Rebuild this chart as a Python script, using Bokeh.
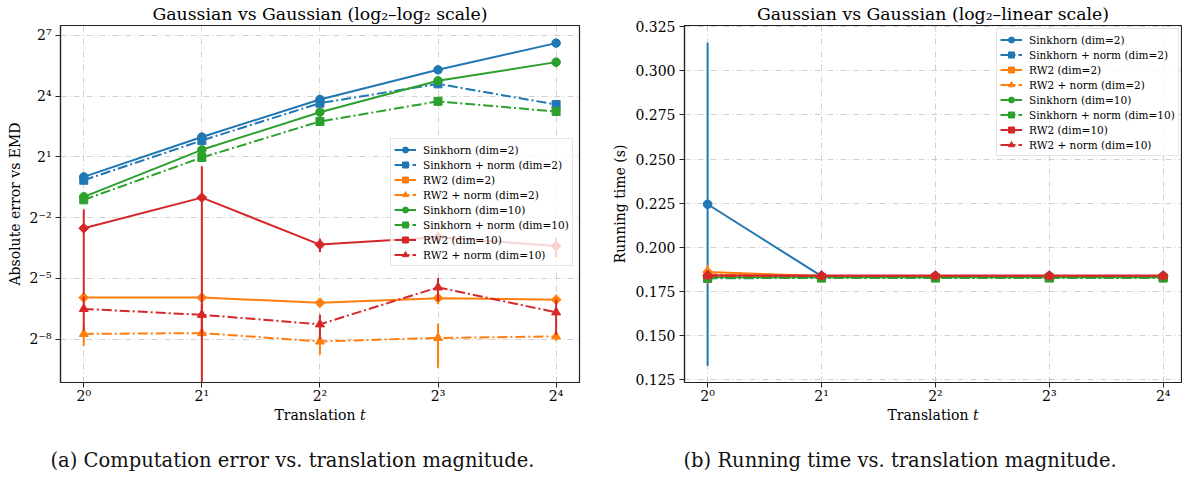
import numpy as np
from bokeh.plotting import figure
from bokeh.layouts import row
from bokeh.models import (FixedTicker, Range1d, Legend, LegendItem, Title,
                          NumeralTickFormatter)
from bokeh.embed import file_html
from bokeh.resources import INLINE

# ---------------- data ----------------
translation = [1, 2, 4, 8, 16]
x_tick_labels = ["2⁰", "2¹", "2²", "2³", "2⁴"]

err_ticks = [2.0 ** -8, 2.0 ** -5, 2.0 ** -2, 2.0 ** 1, 2.0 ** 4, 2.0 ** 7]
err_tick_labels = ["2⁻⁸", "2⁻⁵", "2⁻²", "2¹", "2⁴", "2⁷"]
time_ticks = [0.125, 0.150, 0.175, 0.200, 0.225, 0.250, 0.275, 0.300, 0.325]

series_labels = ["Sinkhorn (dim=2)", "Sinkhorn + norm (dim=2)", "RW2 (dim=2)",
                 "RW2 + norm (dim=2)", "Sinkhorn (dim=10)",
                 "Sinkhorn + norm (dim=10)", "RW2 (dim=10)", "RW2 + norm (dim=10)"]

# absolute error vs EMD: mean and std
err_sinkhorn_d2 = [1.01, 3.95, 14.3, 39.4, 98.4]
err_sinkhorn_d2_sd = [0.04, 0.10, 0.4, 1.2, 2.5]
err_sinkhorn_norm_d2 = [0.90, 3.51, 12.6, 24.4, 12.0]
err_sinkhorn_norm_d2_sd = [0.03, 0.10, 0.5, 3.5, 1.5]
err_rw2_d2 = [0.0162, 0.0162, 0.0136, 0.0159, 0.0151]
err_rw2_d2_sd = [0.0005, 0.0005, 0.0006, 0.0030, 0.0008]
err_rw2_norm_d2 = [0.00468, 0.00481, 0.00362, 0.00407, 0.00430]
err_rw2_norm_d2_sd = [0.0016, 0.0004, 0.0013, 0.0026, 0.0006]
err_sinkhorn_d10 = [0.51, 2.55, 9.25, 27.1, 51.3]
err_sinkhorn_d10_sd = [0.02, 0.08, 0.3, 3.0, 8.0]
err_sinkhorn_norm_d10 = [0.46, 1.96, 6.73, 13.4, 9.45]
err_sinkhorn_norm_d10_sd = [0.02, 0.06, 0.25, 1.5, 1.0]
err_rw2_d10 = [0.174, 0.497, 0.0994, 0.128, 0.0947]
err_rw2_d10_sd = [0.156, 0.957, 0.023, 0.025, 0.030]
err_rw2_norm_d10 = [0.0110, 0.0090, 0.0065, 0.0230, 0.0098]
err_rw2_norm_d10_sd = [0.0058, 0.0040, 0.0026, 0.0087, 0.0053]

# running time (s): mean and std
time_sinkhorn_d2 = [0.2243, 0.1835, 0.1835, 0.1835, 0.1835]
time_sinkhorn_d2_sd = [0.0917, 0.0004, 0.0003, 0.0003, 0.0003]
time_sinkhorn_norm_d2 = [0.1822, 0.1826, 0.1826, 0.1826, 0.1826]
time_sinkhorn_norm_d2_sd = [0.0004, 0.0003, 0.0003, 0.0003, 0.0003]
time_rw2_d2 = [0.1858, 0.1836, 0.1836, 0.1836, 0.1836]
time_rw2_d2_sd = [0.0025, 0.0003, 0.0003, 0.0003, 0.0003]
time_rw2_norm_d2 = [0.1845, 0.1832, 0.1832, 0.1832, 0.1832]
time_rw2_norm_d2_sd = [0.0055, 0.0003, 0.0003, 0.0003, 0.0003]
time_sinkhorn_d10 = [0.1829, 0.1829, 0.1829, 0.1829, 0.1829]
time_sinkhorn_d10_sd = [0.0003, 0.0003, 0.0003, 0.0003, 0.0003]
time_sinkhorn_norm_d10 = [0.1824, 0.1824, 0.1824, 0.1824, 0.1824]
time_sinkhorn_norm_d10_sd = [0.0003, 0.0003, 0.0003, 0.0003, 0.0003]
time_rw2_d10 = [0.1840, 0.1838, 0.1838, 0.1838, 0.1838]
time_rw2_d10_sd = [0.0004, 0.0003, 0.0003, 0.0003, 0.0003]
time_rw2_norm_d10 = [0.1836, 0.1835, 0.1835, 0.1835, 0.1835]
time_rw2_norm_d10_sd = [0.0004, 0.0003, 0.0003, 0.0003, 0.0003]

err_series = [
    (err_sinkhorn_d2, err_sinkhorn_d2_sd), (err_sinkhorn_norm_d2, err_sinkhorn_norm_d2_sd),
    (err_rw2_d2, err_rw2_d2_sd), (err_rw2_norm_d2, err_rw2_norm_d2_sd),
    (err_sinkhorn_d10, err_sinkhorn_d10_sd), (err_sinkhorn_norm_d10, err_sinkhorn_norm_d10_sd),
    (err_rw2_d10, err_rw2_d10_sd), (err_rw2_norm_d10, err_rw2_norm_d10_sd),
]
time_series = [
    (time_sinkhorn_d2, time_sinkhorn_d2_sd), (time_sinkhorn_norm_d2, time_sinkhorn_norm_d2_sd),
    (time_rw2_d2, time_rw2_d2_sd), (time_rw2_norm_d2, time_rw2_norm_d2_sd),
    (time_sinkhorn_d10, time_sinkhorn_d10_sd), (time_sinkhorn_norm_d10, time_sinkhorn_norm_d10_sd),
    (time_rw2_d10, time_rw2_d10_sd), (time_rw2_norm_d10, time_rw2_norm_d10_sd),
]

# ---------------- styles ----------------
BLUE, ORANGE, GREEN, RED = "#1f77b4", "#ff7f0e", "#2ca02c", "#d62728"
colors = [BLUE, BLUE, ORANGE, ORANGE, GREEN, GREEN, RED, RED]
markers = ["circle", "square", "square", "triangle", "circle", "square", "square", "triangle"]
angles = [0, 0, np.pi / 4, 0, 0, 0, np.pi / 4, 0]
sizes = [8.5, 8, 7, 9, 8.5, 8, 7, 9]
dashes = ["solid", "10 3 2 3", "solid", "10 3 2 3", "solid", "10 3 2 3", "solid", "10 3 2 3"]

FONT = "DejaVu Serif"
CAP_FONT = "DejaVu Serif"


def style_fig(p, title):
    p.title.text = title
    p.title.align = "center"
    p.title.text_font = FONT
    p.title.text_font_size = "17.3px"
    p.title.text_font_style = "normal"
    p.title.text_color = "black"
    p.title.standoff = 3
    p.outline_line_color = "#222222"
    p.outline_line_width = 1.2
    p.background_fill_color = "white"
    p.border_fill_color = "white"
    for ax in (p.xaxis, p.yaxis):
        ax.axis_line_color = "#222222"
        ax.axis_line_width = 1.2
        ax.major_tick_line_color = "#222222"
        ax.major_tick_out = 5
        ax.major_tick_in = 0
        ax.minor_tick_line_color = None
        ax.major_label_text_font = FONT
        ax.major_label_text_font_size = "14px"
        ax.major_label_text_color = "black"
        ax.axis_label_text_font = FONT
        ax.axis_label_text_font_size = "14px"
        ax.axis_label_text_font_style = "normal"
        ax.axis_label_text_color = "black"
    p.xaxis.major_label_standoff = 0
    p.xaxis.axis_label_standoff = 0
    p.yaxis.major_label_standoff = 4
    p.yaxis.axis_label_standoff = 4
    for g in (p.xgrid, p.ygrid):
        g.grid_line_color = "#b0b0b0"
        g.grid_line_alpha = 0.6
        g.grid_line_dash = "6 3 1 3"
        g.grid_line_width = 1


def draw_series(p, series, log):
    items = []
    x = np.asarray(translation, dtype=float)
    for i, (mean, sd) in enumerate(series):
        m = np.asarray(mean, dtype=float)
        s = np.asarray(sd, dtype=float)
        lo = m - s
        hi = m + s
        if log:
            lo = np.where(lo > 0, lo, 1e-12)
        p.segment(x0=x, y0=lo, x1=x, y1=hi, line_color=colors[i], line_width=2)
        ln = p.line(x=x, y=m, line_color=colors[i], line_width=2, line_dash=dashes[i])
        sc = p.scatter(x=x, y=m, marker=markers[i], size=sizes[i], angle=angles[i],
                       fill_color=colors[i], line_color=colors[i])
        items.append(LegendItem(label=series_labels[i], renderers=[ln, sc]))
    return items


def add_legend(p, items, loc):
    leg = Legend(items=items, location=loc)
    leg.label_text_font = FONT
    leg.label_text_font_size = "10.5px"
    leg.label_text_color = "black"
    leg.label_height = 11
    leg.glyph_height = 15
    leg.glyph_width = 22
    leg.label_standoff = 7
    leg.spacing = 0
    leg.padding = 3
    leg.margin = 0
    leg.background_fill_color = "white"
    leg.background_fill_alpha = 0.8
    leg.border_line_color = "#cccccc"
    leg.border_line_width = 1
    p.add_layout(leg, "center")


def add_caption(p, text, offset):
    cap = Title(text=text, align="left", offset=offset, text_font=CAP_FONT,
                text_font_size="19.5px", text_font_style="normal", text_color="#111111",
                standoff=42)
    p.add_layout(cap, "below")


xr = (2.0 ** -0.197, 2.0 ** 4.198)

# ---------------- left: error (log2-log2) ----------------
p1 = figure(frame_width=519, frame_height=357, min_border_left=60, min_border_right=21,
            min_border_top=24, min_border_bottom=97, x_axis_type="log", y_axis_type="log",
            x_range=Range1d(*xr), y_range=Range1d(2.0 ** -10.14, 2.0 ** 7.49),
            output_backend="svg", toolbar_location=None)
style_fig(p1, "Gaussian vs Gaussian (log₂–log₂ scale)")
xt1 = FixedTicker(ticks=translation)
yt1 = FixedTicker(ticks=err_ticks)
p1.xaxis.ticker = xt1
p1.xgrid.ticker = xt1
p1.yaxis.ticker = yt1
p1.ygrid.ticker = yt1
p1.xaxis.major_label_overrides = {float(v): l for v, l in zip(translation, x_tick_labels)}
p1.yaxis.major_label_overrides = {float(v): l for v, l in zip(err_ticks, err_tick_labels)}
p1.xaxis.axis_label = "Translation 𝑡"
p1.yaxis.axis_label = "Absolute error vs EMD"
items1 = draw_series(p1, err_series, log=True)
add_legend(p1, items1, (330, 116))
add_caption(p1, "(a) Computation error vs. translation magnitude.", -10)

# ---------------- right: running time (log2-linear) ----------------
p2 = figure(frame_width=497, frame_height=357, min_border_left=84, min_border_right=1,
            min_border_top=24, min_border_bottom=97, x_axis_type="log",
            x_range=Range1d(2.0 ** -0.203, 2.0 ** 4.161), y_range=Range1d(0.1231, 0.3258),
            output_backend="svg", toolbar_location=None)
style_fig(p2, "Gaussian vs Gaussian (log₂–linear scale)")
xt2 = FixedTicker(ticks=translation)
yt2 = FixedTicker(ticks=time_ticks)
p2.xaxis.ticker = xt2
p2.xgrid.ticker = xt2
p2.yaxis.ticker = yt2
p2.ygrid.ticker = yt2
p2.xaxis.major_label_overrides = {float(v): l for v, l in zip(translation, x_tick_labels)}
p2.yaxis.formatter = NumeralTickFormatter(format="0.000")
p2.xaxis.axis_label = "Translation 𝑡"
p2.yaxis.axis_label = "Running time (s)"
items2 = draw_series(p2, time_series, log=False)
add_legend(p2, items2, (312, 226))
add_caption(p2, "(b) Running time vs. translation magnitude.", -1)

layout = row(p1, p2, spacing=0)
open("out.html", "w").write(file_html(layout, INLINE))
